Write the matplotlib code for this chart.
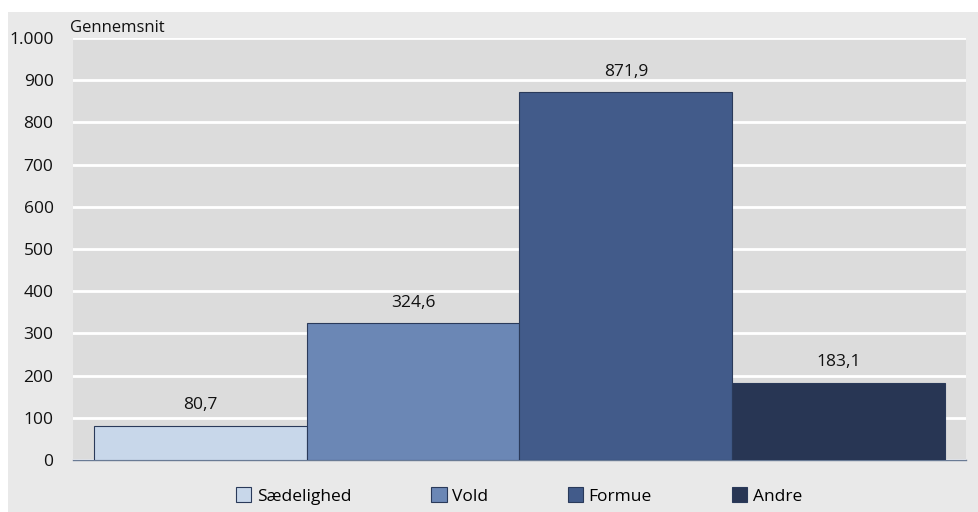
import matplotlib.pyplot as plt
from matplotlib.patches import Rectangle

categories = ['Sædelighed', 'Vold', 'Formue', 'Andre']
values = [80.7, 324.6, 871.9, 183.1]
labels = ['80,7', '324,6', '871,9', '183,1']
colors = ['#c8d7ea', '#6b87b5', '#425b8a', '#283654']
yticks = [0, 100, 200, 300, 400, 500, 600, 700, 800, 900, 1000]
ytick_labels = ['0', '100', '200', '300', '400', '500', '600', '700', '800', '900', '1.000']

plt.rcParams['font.family'] = ['Open Sans', 'DejaVu Sans']

fig = plt.figure(figsize=(9.79, 5.12), dpi=100)
fig.patch.set_facecolor('white')
fig.patches.append(Rectangle((8 / 979, 0), 1, 1 - 12 / 512, transform=fig.transFigure,
                             facecolor='#e9e9e9', edgecolor='none', zorder=-10))

ax = fig.add_axes([73 / 979, 1 - 460 / 512, 893 / 979, 422 / 512])
ax.set_facecolor('#dcdcdc')

x = list(range(len(values)))
bars = ax.bar(x, values, width=1.0, color=colors, edgecolor='#2a3a5a', linewidth=0.8,
              zorder=3)

for xi, v, lab in zip(x, values, labels):
    ax.annotate(lab, (xi, v), xytext=(0, 9), textcoords='offset points',
                ha='center', va='bottom', fontsize=12.5, color='#111111')

ax.set_xlim(-0.6, 3.6)
ax.set_ylim(0, 1000)
ax.set_yticks(yticks)
ax.set_yticklabels(ytick_labels, fontsize=12.5)
ax.set_xticks([])
ax.tick_params(axis='y', length=0, pad=14, colors='#111111')
ax.yaxis.grid(True, color='white', linewidth=2)
ax.set_axisbelow(True)
for s in ['top', 'right', 'left']:
    ax.spines[s].set_visible(False)
ax.spines['bottom'].set_color('#6a7b95')
ax.spines['bottom'].set_linewidth(1)

fig.text(70 / 979, 1 - 28 / 512, 'Gennemsnit', fontsize=12, ha='left', va='center',
         color='#111111')

leg = fig.legend(handles=list(bars), labels=categories, loc='center',
                 bbox_to_anchor=(0.53, 1 - 496 / 512), ncol=4, frameon=False,
                 fontsize=12.5, handlelength=0.9, handleheight=0.9,
                 handletextpad=0.3, columnspacing=4.6)

fig.savefig('out.png', dpi=100)
